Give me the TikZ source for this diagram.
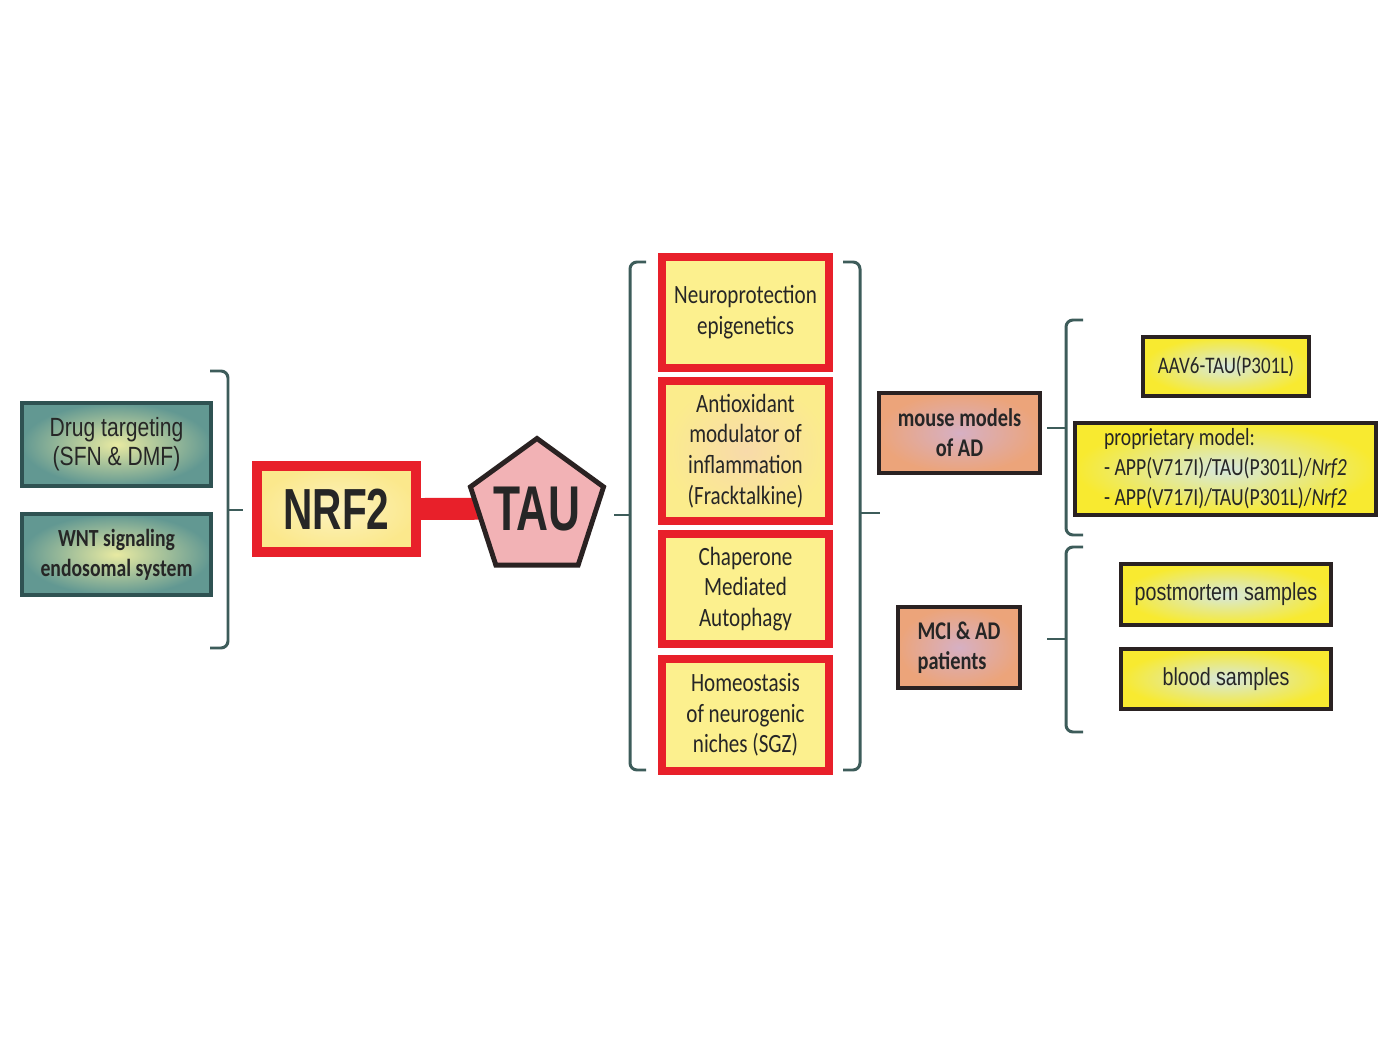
\documentclass[tikz,border=0pt]{standalone}
\usepackage{fontspec}
\usetikzlibrary{shapes.geometric,backgrounds}
\newfontfamily\calf[FakeStretch=0.8]{Carlito}
\newfontfamily\arif[FakeStretch=0.8]{Liberation Sans}
\newfontfamily\arin[FakeStretch=0.7]{Liberation Sans}
\definecolor{redb}{HTML}{E8202A}
\definecolor{brc}{HTML}{3D5C5A}
\definecolor{tealb}{HTML}{2F5252}
\definecolor{darkb}{HTML}{2A2222}
\definecolor{txt}{HTML}{262626}
\newcommand\mybrace[6]{% xv, xh, xt, y1, y2, ym
  \draw[bracel,rounded corners=4] (#2,#4) -- (#1,#4) -- (#1,#5) -- (#2,#5);
  \draw[bracel] (#1,#6) -- (#3,#6);
}
\begin{document}
\begin{tikzpicture}[x=0.02cm,y=-0.02cm,
  bracel/.style={draw=brc,line width=1.7pt},
  greenbox/.style={draw=tealb,line width=2.27pt,inner color={rgb,255:red,232;green,234;blue,162},outer color={rgb,255:red,98;green,152;blue,146},inner sep=0pt,text=txt},
  redbox/.style={draw=redb,line width=4.5pt,fill={rgb,255:red,252;green,240;blue,142},inner sep=0pt,align=center,text=txt,font=\calf\fontsize{15}{17.5}\selectfont},
  salbox/.style={draw=darkb,line width=2.27pt,inner color={rgb,255:red,214;green,176;blue,196},outer color={rgb,255:red,236;green,164;blue,122},inner sep=0pt,align=left,text=txt,font=\calf\bfseries\fontsize{14.5}{17}\selectfont},
  yelbox/.style={draw=darkb,line width=2.27pt,inner color={rgb,255:red,214;green,232;blue,222},outer color={rgb,255:red,248;green,234;blue,48},inner sep=0pt,text=txt},
]
\useasboundingbox (0,0) rectangle (1400,1050);
\begin{pgfonlayer}{background}
\fill[white] (0,0) rectangle (1400,1050);
\end{pgfonlayer}

% left boxes
\node[greenbox,minimum width=3.78cm,minimum height=1.66cm,align=center,font=\arif\fontsize{15}{16.5}\selectfont] (drug) at (116.5,444.5) {Drug targeting\\(SFN \& DMF)};
\node[greenbox,minimum width=3.78cm,minimum height=1.62cm,align=center,font=\calf\bfseries\fontsize{14}{17}\selectfont] (wnt) at (116.5,554.5) {WNT signaling\\endosomal system};

% left brace
\mybrace{228}{210}{243}{371}{648}{510}

% NRF2 and TAU
\node[draw=redb,line width=5.67pt,inner color={rgb,255:red,252;green,242;blue,190},outer color={rgb,255:red,251;green,232;blue,140},minimum width=3.18cm,minimum height=1.72cm,inner sep=0pt,text=txt,font=\arin\bfseries\fontsize{33}{36}\selectfont] (nrf2) at (336.5,509) {NRF2};
\node[regular polygon,regular polygon sides=5,draw=darkb,line width=2.8pt,fill={rgb,255:red,242;green,178;blue,181},minimum size=2.8cm,inner sep=0pt,text=txt,font=\arin\bfseries\fontsize{36}{38}\selectfont] (tau) at (537,508.5) {\makebox[0pt]{\smash{\raisebox{-12.5pt}{TAU}}}};
\begin{pgfonlayer}{background}
\draw[redb,line width=12.5pt] (nrf2.east) -- (tau.center);
\end{pgfonlayer}

% middle braces
\mybrace{630}{646}{614}{262}{770}{515}
\mybrace{860}{843}{880}{262}{770}{513}

% middle boxes
\node[redbox,minimum width=3.34cm,minimum height=2.22cm] (m1) at (745.5,312.5) {Neuroprotection\\epigenetics};
\node[redbox,minimum width=3.34cm,minimum height=2.8cm,inner color={rgb,255:red,248;green,218;blue,170},outer color={rgb,255:red,251;green,236;blue,140}] (m2) at (745.5,451) {Antioxidant\\modulator of\\inflammation\\(Fracktalkine)};
\node[redbox,minimum width=3.34cm,minimum height=2.2cm] (m3) at (745.5,589) {Chaperone\\Mediated\\Autophagy};
\node[redbox,minimum width=3.34cm,minimum height=2.24cm] (m4) at (745.5,715) {Homeostasis\\of neurogenic\\niches (SGZ)};

% salmon boxes
\node[salbox,minimum width=3.22cm,minimum height=1.6cm,align=center] (mouse) at (959.5,433) {mouse models\\of AD};
\node[salbox,minimum width=2.44cm,minimum height=1.62cm] (mci) at (959,647.5) {MCI \& AD\\patients};

% right braces
\mybrace{1066}{1083}{1047}{320}{535}{428}
\mybrace{1066}{1083}{1047}{547}{732}{639}

% yellow boxes
\node[yelbox,minimum width=3.32cm,minimum height=1.18cm,font=\calf\fontsize{13.5}{16}\selectfont] (aav) at (1226,366.5) {AAV6-TAU(P301L)};
\node[yelbox,minimum width=6.02cm,minimum height=1.84cm,align=left,font=\calf\fontsize{14}{17}\selectfont] (prop) at (1225.5,469) {proprietary model:\\- APP(V717I)/TAU(P301L)/\textit{Nrf2}\\- APP(V717I)/TAU(P301L)/\textit{Nrf2}};
\node[yelbox,minimum width=4.2cm,minimum height=1.22cm,font=\arif\fontsize{14}{16}\selectfont] (post) at (1226,594.5) {postmortem samples};
\node[yelbox,minimum width=4.2cm,minimum height=1.2cm,font=\arif\fontsize{14}{16}\selectfont] (blood) at (1226,679) {blood samples};
\end{tikzpicture}
\end{document}
